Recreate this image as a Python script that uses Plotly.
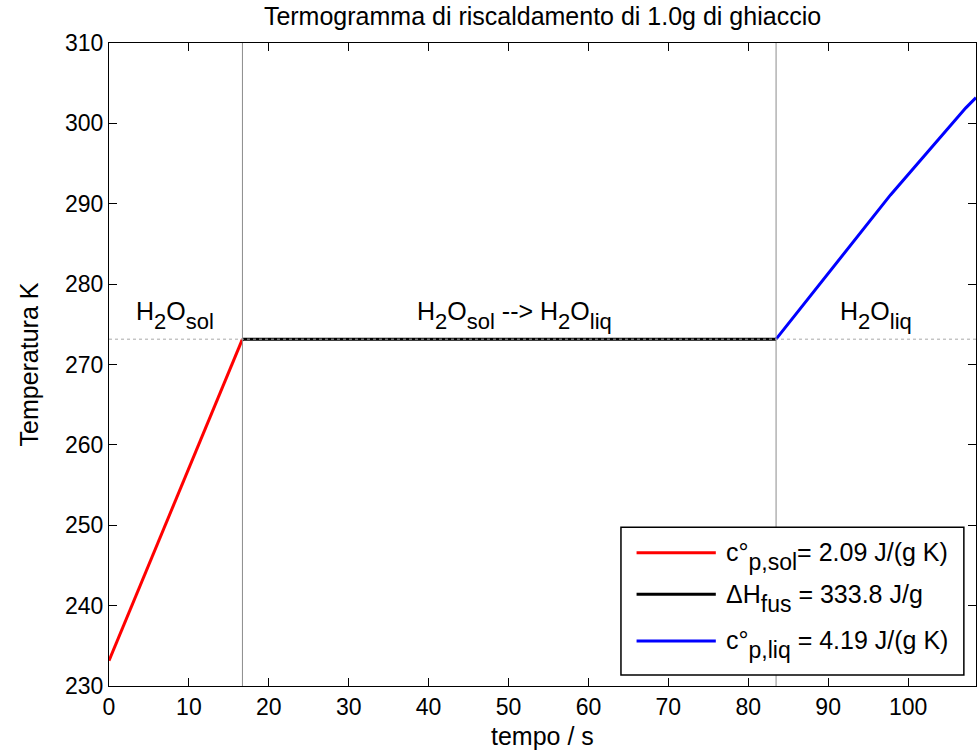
import re
import plotly.graph_objects as go

# ---- data ----
t_sol = [0.0, 16.7]
T_sol = [233.15, 273.15]
t_fus = [16.7, 83.48]
T_fus = [273.15, 273.15]
t_liq = [83.48, 91.4, 97.8, 107.2, 108.5]
T_liq = [273.15, 283.0, 291.1, 301.9, 303.2]

T_melt = 273.15
x_range = [0, 108.5]
y_range = [230, 310]
x_ticks = [0, 10, 20, 30, 40, 50, 60, 70, 80, 90, 100]
y_ticks = [230, 240, 250, 260, 270, 280, 290, 300, 310]

series_names = [
    "c°<sub>p,sol</sub>= 2.09 J/(g K)",
    "ΔH<sub>fus</sub> = 333.8 J/g",
    "c°<sub>p,liq</sub> = 4.19 J/(g K)",
]
series_colors = ["#ff0000", "#000000", "#0000ff"]

phase_labels = [
    "H<sub>2</sub>O<sub>sol</sub>",
    "H<sub>2</sub>O<sub>sol</sub> --> H<sub>2</sub>O<sub>liq</sub>",
    "H<sub>2</sub>O<sub>liq</sub>",
]
phase_label_x = [8.3, 50.7, 96.0]

title_text = "Termogramma di riscaldamento di 1.0g di ghiaccio"
x_title = "tempo / s"
y_title = "Temperatura K"

FONT = "Liberation Sans, Arial, sans-serif"
MAIN_SIZE = 25


def big_sub(txt, size):
    # MATLAB-like subscripts: nearly full size and lowered more than default
    return re.sub(r"<sub>(.*?)</sub>",
                  lambda m: "<sub><sub><span style='font-size:%dpx'>%s</span></sub></sub>" % (size, m.group(1)),
                  txt)


fig = go.Figure()

# reference lines
for xv in (t_fus[0], t_fus[1]):
    fig.add_shape(type="line", xref="x", yref="paper", x0=xv, x1=xv, y0=0, y1=1,
                  line=dict(color="#8c8c8c", width=1))
fig.add_shape(type="line", xref="paper", yref="y", x0=0, x1=1, y0=T_melt, y1=T_melt,
              line=dict(color="#a8a8a8", width=1, dash="dot"))

for xs, ys, name, col in zip([t_sol, t_fus, t_liq], [T_sol, T_fus, T_liq], series_names, series_colors):
    fig.add_trace(go.Scatter(x=xs, y=ys, mode="lines", name=name,
                             line=dict(color=col, width=3), showlegend=False))

# phase labels
for txt, xv in zip(phase_labels, phase_label_x):
    fig.add_annotation(x=xv, y=T_melt, xref="x", yref="y", text=big_sub(txt, 22), showarrow=False,
                       xanchor="center", yanchor="bottom", yshift=3,
                       font=dict(family=FONT, size=MAIN_SIZE, color="black"))

# custom legend (MATLAB style)
lx0, lx1, ly0, ly1 = 0.5905, 0.986, 0.0171, 0.247
fig.add_shape(type="rect", xref="paper", yref="paper", x0=lx0, x1=lx1, y0=ly0, y1=ly1,
              line=dict(color="black", width=1.5), fillcolor="white", layer="above")
row_y = [0.2073, 0.1426, 0.0700]
for name, col, ry in zip(series_names, series_colors, row_y):
    fig.add_shape(type="line", xref="paper", yref="paper", x0=0.6085, x1=0.6999, y0=ry, y1=ry,
                  line=dict(color=col, width=3), layer="above")
    fig.add_annotation(x=0.7093, y=ry, xref="paper", yref="paper", text=big_sub(name, 23), showarrow=False,
                       xanchor="left", yanchor="middle", yshift=-4,
                       font=dict(family=FONT, size=MAIN_SIZE, color="black"))

# axis titles as annotations for precise placement
fig.add_annotation(x=0.5, y=0, xref="paper", yref="paper", text=x_title, showarrow=False,
                   xanchor="center", yanchor="middle", yshift=-50,
                   font=dict(family=FONT, size=25, color="black"))
fig.add_annotation(x=0, y=0.5, xref="paper", yref="paper", text=y_title, showarrow=False,
                   textangle=-90, xanchor="center", yanchor="middle", xshift=-81,
                   font=dict(family=FONT, size=25, color="black"))

axis_common = dict(showline=True, linecolor="black", linewidth=1, mirror="ticks",
                   ticks="inside", ticklen=8, tickcolor="black", tickwidth=1,
                   showgrid=False, zeroline=False, automargin=False,
                   tickfont=dict(family=FONT, size=23, color="black"))

fig.update_layout(
    width=980, height=752,
    margin=dict(l=109, r=4, t=43, b=66),
    paper_bgcolor="white", plot_bgcolor="white",
    title=dict(text=title_text,
               x=0.5, xref="paper", xanchor="center", y=0.978, yref="container", yanchor="middle",
               font=dict(family=FONT, size=25, color="black")),
    xaxis=dict(range=x_range, tickvals=x_ticks, **axis_common),
    yaxis=dict(range=y_range, tickvals=y_ticks, **axis_common),
)

fig.write_html("out.html", config={"displayModeBar": False},
               post_script="document.body.style.margin='0px';")
